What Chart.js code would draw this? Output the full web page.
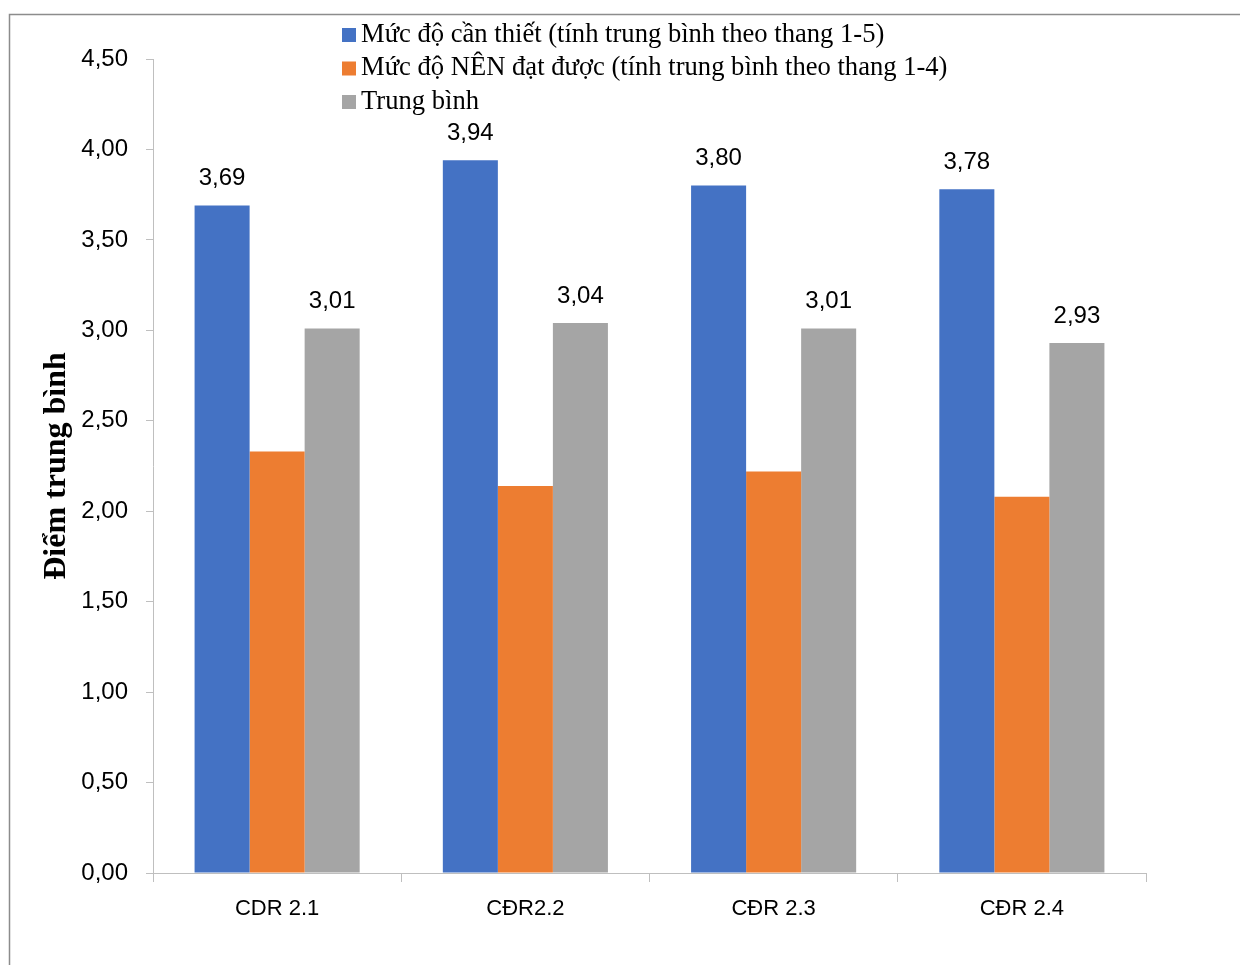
<!DOCTYPE html>
<html>
<head>
<meta charset="utf-8">
<script src="https://cdn.jsdelivr.net/npm/chart.js@4/dist/chart.umd.min.js"></script>
<style>
  html, body { margin: 0; padding: 0; background: #fff; overflow: hidden; }
  #wrap { position: absolute; left: 0; top: 0; width: 1240px; height: 965px; }
</style>
</head>
<body>
<div id="wrap"><canvas id="c" width="1240" height="965"></canvas></div>
<script>
// Categories and series
const categories = ['CDR 2.1', 'CĐR2.2', 'CĐR 2.3', 'CĐR 2.4'];
const seriesNames = [
  'Mức độ cần thiết (tính trung bình theo thang 1-5)',
  'Mức độ NÊN đạt được (tính trung bình theo thang 1-4)',
  'Trung bình'
];
const necessity = [3.69, 3.94, 3.80, 3.78];
const shouldAchieve = [2.33, 2.14, 2.22, 2.08];
const average = [3.01, 3.04, 3.01, 2.93];
const yTicks = [0, 0.5, 1, 1.5, 2, 2.5, 3, 3.5, 4, 4.5];
const yTitle = 'Điểm trung bình';

const colors = ['#4472C4', '#ED7D31', '#A5A5A5'];
const labelledSeries = [0, 2];
const fmt = v => v.toFixed(2).replace('.', ',');

// Outer frame of the chart
const framePlugin = {
  id: 'frame',
  beforeDraw(chart) {
    const ctx = chart.ctx;
    ctx.save();
    ctx.strokeStyle = '#8c8c8c';
    ctx.lineWidth = 1.5;
    ctx.strokeRect(9.5, 14.5, 1300, 1100);
    ctx.restore();
  }
};

// Value labels above the bars
const valueLabels = {
  id: 'valueLabels',
  afterDatasetsDraw(chart) {
    const ctx = chart.ctx;
    ctx.save();
    ctx.font = '24px "Liberation Sans", Arial, sans-serif';
    ctx.fillStyle = '#000';
    ctx.textAlign = 'center';
    ctx.textBaseline = 'middle';
    labelledSeries.forEach(di => {
      const meta = chart.getDatasetMeta(di);
      meta.data.forEach((bar, i) => {
        ctx.fillText(fmt(chart.data.datasets[di].data[i]), bar.x, bar.y - 27);
      });
    });
    ctx.restore();
  }
};

// Vertical legend list at the top of the plot
const stackedLegend = {
  id: 'stackedLegend',
  afterDraw(chart) {
    const ctx = chart.ctx;
    ctx.save();
    ctx.font = '26.6px "Liberation Serif", "Times New Roman", serif';
    ctx.textBaseline = 'middle';
    ctx.textAlign = 'left';
    chart.data.datasets.forEach((ds, i) => {
      const y = 35 + i * 33.5;
      ctx.fillStyle = ds.backgroundColor;
      ctx.fillRect(342, y - 7, 14, 14);
      ctx.fillStyle = '#000';
      ctx.fillText(ds.label, 361, y);
    });
    ctx.restore();
  }
};

new Chart(document.getElementById('c'), {
  type: 'bar',
  data: {
    labels: categories,
    datasets: [
      { label: seriesNames[0], data: necessity, backgroundColor: colors[0] },
      { label: seriesNames[1], data: shouldAchieve, backgroundColor: colors[1] },
      { label: seriesNames[2], data: average, backgroundColor: colors[2] }
    ]
  },
  options: {
    responsive: false,
    animation: false,
    devicePixelRatio: 1,
    layout: { padding: { top: 59, right: 94, bottom: 0, left: 0 } },
    datasets: { bar: { categoryPercentage: 0.665, barPercentage: 1.0 } },
    plugins: { legend: { display: false }, tooltip: { enabled: false } },
    scales: {
      x: {
        afterFit(scale) { scale.height = 92; },
        grid: { drawOnChartArea: false, tickLength: 9, color: '#bfbfbf', offset: true },
        border: { color: '#bfbfbf', width: 1 },
        ticks: {
          color: '#000',
          padding: 14,
          font: { family: '"Liberation Sans", Arial, sans-serif', size: 22 }
        }
      },
      y: {
        min: 0,
        max: 4.5,
        afterFit(scale) { scale.width = 153; },
        afterBuildTicks(scale) { scale.ticks = yTicks.map(v => ({ value: v })); },
        grid: { drawOnChartArea: false, tickLength: 7, color: '#bfbfbf' },
        border: { color: '#bfbfbf', width: 1 },
        ticks: {
          color: '#000',
          padding: 18,
          font: { family: '"Liberation Sans", Arial, sans-serif', size: 24 },
          callback: v => fmt(v)
        },
        title: {
          display: true,
          text: yTitle,
          color: '#000',
          padding: { top: 38, bottom: 0 },
          font: { family: '"Liberation Serif", "Times New Roman", serif', size: 32, weight: 'bold' }
        }
      }
    }
  },
  plugins: [framePlugin, valueLabels, stackedLegend]
});
</script>
</body>
</html>
